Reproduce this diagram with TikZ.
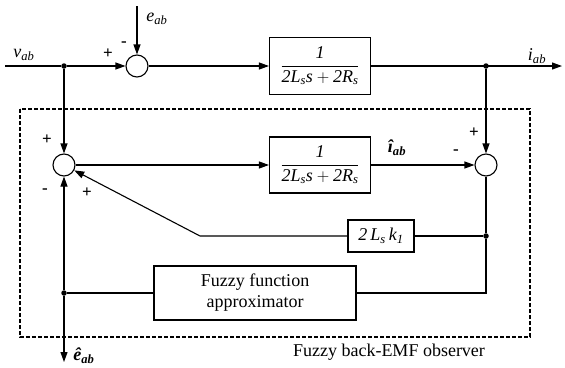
\documentclass[tikz,border=0pt]{standalone}
\usepackage{amsmath}
\usepackage{fontspec}
\setmainfont{Liberation Serif}
\usetikzlibrary{arrows.meta}
\newcommand{\ssub}[1]{\textsubscript{\itshape #1}}
\begin{document}
\begin{tikzpicture}[x=1pt,y=-1pt,
  every node/.style={font=\fontsize{18}{21}\selectfont},
  sum/.style={draw,circle,minimum size=22pt,inner sep=0pt,line width=1.1pt},
  blk/.style={draw,rectangle,inner sep=0pt,line width=1.1pt},
  sig/.style={line width=1.1pt},
  arr/.style={sig,-{Triangle[length=10pt,width=7pt]}},
  dot/.style={fill,circle,inner sep=0pt,minimum size=5.5pt},
  sgn/.style={font=\fontsize{17}{19}\selectfont\bfseries},
  lbl/.style={font=\fontsize{18}{21}\selectfont\itshape}]
\useasboundingbox (0,0) rectangle (565,367);
% top path
\coordinate (in) at (5,66);
\node[dot] (j1) at (64,66) {};
\node[sum] (s1) at (137,66) {};
\coordinate (etop) at (137,6);
\node[blk,minimum width=101pt,minimum height=57pt] (b1) at (320,66)
  {$\displaystyle\frac{\textit{1}}{\textit{2L}_{\textit{s}}\textit{s}+\textit{2R}_{\textit{s}}}$};
\node[dot] (j2) at (486,66) {};
\coordinate (out) at (562,66);
% observer
\node[sum] (s2) at (64,165) {};
\node[blk,minimum width=101pt,minimum height=56pt] (b2) at (320,165)
  {$\displaystyle\frac{\textit{1}}{\textit{2L}_{\textit{s}}\textit{s}+\textit{2R}_{\textit{s}}}$};
\node[sum] (s3) at (486,165) {};
\node[blk,minimum width=66pt,minimum height=32pt] (k) at (381,236)
  {\itshape 2\,L\ssub{s}\,k\ssub{1}};
\node[dot] (j3) at (486,236) {};
\coordinate (kb) at (200,236);
\node[blk,minimum width=202pt,minimum height=54pt,align=center] (f) at (255,293)
  {Fuzzy function\\approximator};
\coordinate (j4) at (486,293);
\node[dot] (j5) at (64,293) {};
\coordinate (eout) at (64,362);
% connectors
\draw[sig] (in) -- (j1);
\draw[arr] (j1) -- (s1);
\draw[arr] (etop) -- (s1);
\draw[arr] (s1) -- (b1);
\draw[arr] (b1) -- (out);
\draw[arr] (j1) -- (s2);
\draw[arr] (s2) -- (b2);
\draw[arr] (b2) -- (s3);
\draw[arr] (j2) -- (s3);
\draw[sig] (s3) -- (j3) -- (j4) -- (f);
\draw[sig] (k) -- (j3);
\draw[arr] (k.west) -- (kb) -- (s2);
\draw[sig] (f) -- (j5);
\draw[arr] (j5) -- (s2);
\draw[arr] (j5) -- (eout);
% dashed observer frame
\draw[line width=1.4pt,dash pattern=on 4pt off 2pt] (20,109) rectangle (530,337);
\node (obs) at (389,352) {Fuzzy back-EMF observer};
% labels
\node[lbl] (lv) at (24,55) {v\ssub{ab}};
\node[lbl] (le) at (157,19) {e\ssub{ab}};
\node[lbl] (li) at (537,56) {i\ssub{ab}};
\node[lbl,font=\fontsize{18}{21}\selectfont\itshape\bfseries] (lih) at (397,148) {î\ssub{ab}};
\node[lbl,font=\fontsize{18}{21}\selectfont\itshape\bfseries] (leh) at (84,356) {ê\ssub{ab}};
% signs
\node[sgn] (p1) at (108,54) {+};
\node[sgn] (m1) at (124,44) {-};
\node[sgn] (p2) at (47,140) {+};
\node[sgn] (m2) at (45,191) {-};
\node[sgn] (p3) at (87,193) {+};
\node[sgn] (m3) at (456,152) {-};
\node[sgn] (p4) at (474,133) {+};
\end{tikzpicture}
\end{document}
